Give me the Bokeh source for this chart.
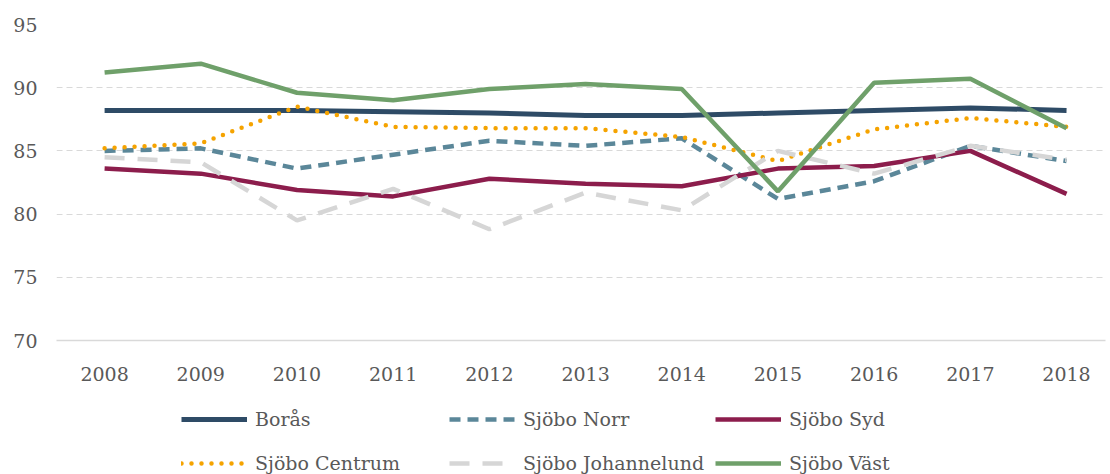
from bokeh.plotting import figure
from bokeh.models import Range1d, FixedTicker, Legend, LegendItem
from bokeh.layouts import column
from bokeh.embed import file_html
from bokeh.resources import INLINE

years = [2008, 2009, 2010, 2011, 2012, 2013, 2014, 2015, 2016, 2017, 2018]
boras = [88.2, 88.2, 88.2, 88.1, 88.0, 87.8, 87.8, 88.0, 88.2, 88.4, 88.2]
norr = [85.0, 85.2, 83.6, 84.7, 85.8, 85.4, 86.0, 81.2, 82.6, 85.4, 84.2]
syd = [83.6, 83.2, 81.9, 81.4, 82.8, 82.4, 82.2, 83.6, 83.8, 85.0, 81.6]
centrum = [85.2, 85.6, 88.5, 86.9, 86.8, 86.8, 86.1, 84.2, 86.7, 87.6, 86.9]
johannelund = [84.5, 84.1, 79.5, 82.0, 78.8, 81.7, 80.3, 85.0, 83.2, 85.4, 84.3]
vast = [91.2, 91.9, 89.6, 89.0, 89.9, 90.3, 89.9, 81.8, 90.4, 90.7, 86.8]
y_ticks = [70, 75, 80, 85, 90, 95]
names = ["Borås", "Sjöbo Norr", "Sjöbo Syd", "Sjöbo Centrum", "Sjöbo Johannelund", "Sjöbo Väst"]

FONT = "DejaVu Serif"
TXT = "#595959"

styles = [
    dict(line_color="#2E4B66", line_width=5),
    dict(line_color="#5B8799", line_width=4.5, line_dash="11 7"),
    dict(line_color="#8C1D4C", line_width=4.5),
    dict(line_color="#F5A300", line_width=4.5, line_dash="0 10", line_cap="round"),
    dict(line_color="#D6D6D6", line_width=4.5, line_dash="20 13"),
    dict(line_color="#6FA06A", line_width=4.5),
]
series = [boras, norr, syd, centrum, johannelund, vast]

p = figure(width=1110, height=390, output_backend="svg", toolbar_location=None,
           x_range=Range1d(2007.5, 2018.405), y_range=Range1d(70, 95),
           min_border_left=56, min_border_right=5, min_border_top=24, min_border_bottom=50)
p.outline_line_color = None
p.background_fill_color = "white"
p.border_fill_color = "white"

p.xaxis.ticker = FixedTicker(ticks=years)
p.yaxis.ticker = FixedTicker(ticks=y_ticks)
for ax in (p.xaxis[0], p.yaxis[0]):
    ax.major_tick_line_color = None
    ax.minor_tick_line_color = None
    ax.major_label_text_font = FONT
    ax.major_label_text_font_size = "19px"
    ax.major_label_text_color = TXT
p.yaxis.axis_line_color = None
p.yaxis.major_label_standoff = 13
p.xaxis.axis_line_color = "#D9D9D9"
p.xaxis.axis_line_width = 1.5
p.xaxis.major_label_standoff = 20

p.xgrid.grid_line_color = None
p.ygrid.grid_line_color = "#D9D9D9"
p.ygrid.grid_line_dash = "6 4"
p.ygrid.grid_line_width = 1.2

for vals, st in zip(series, styles):
    p.line(years, vals, **st)

# legend strip below the chart (its series lie outside its visible range)
lf = figure(width=1110, height=84, output_backend="svg", toolbar_location=None,
            x_range=Range1d(0, 1), y_range=Range1d(0, 1),
            x_axis_location=None, y_axis_location=None,
            min_border_left=0, min_border_right=0, min_border_top=0, min_border_bottom=0)
lf.outline_line_color = None
lf.xgrid.visible = False
lf.ygrid.visible = False
lr = [lf.line(years, vals, **st) for vals, st in zip(series, styles)]

col_x = [125, 393, 659]
for c in range(3):
    its = [LegendItem(label=names[c], renderers=[lr[c]]),
           LegendItem(label=names[c + 3], renderers=[lr[c + 3]])]
    lg = Legend(items=its, orientation="vertical", location=(col_x[c], 0),
                glyph_width=66, glyph_height=22, label_height=22,
                label_standoff=8, spacing=22, padding=0, margin=0,
                border_line_color=None, background_fill_alpha=0,
                label_text_font=FONT, label_text_font_size="19px",
                label_text_color=TXT)
    lf.add_layout(lg, "center")

layout = column(p, lf, spacing=0)
open("out.html", "w").write(file_html(layout, INLINE))
